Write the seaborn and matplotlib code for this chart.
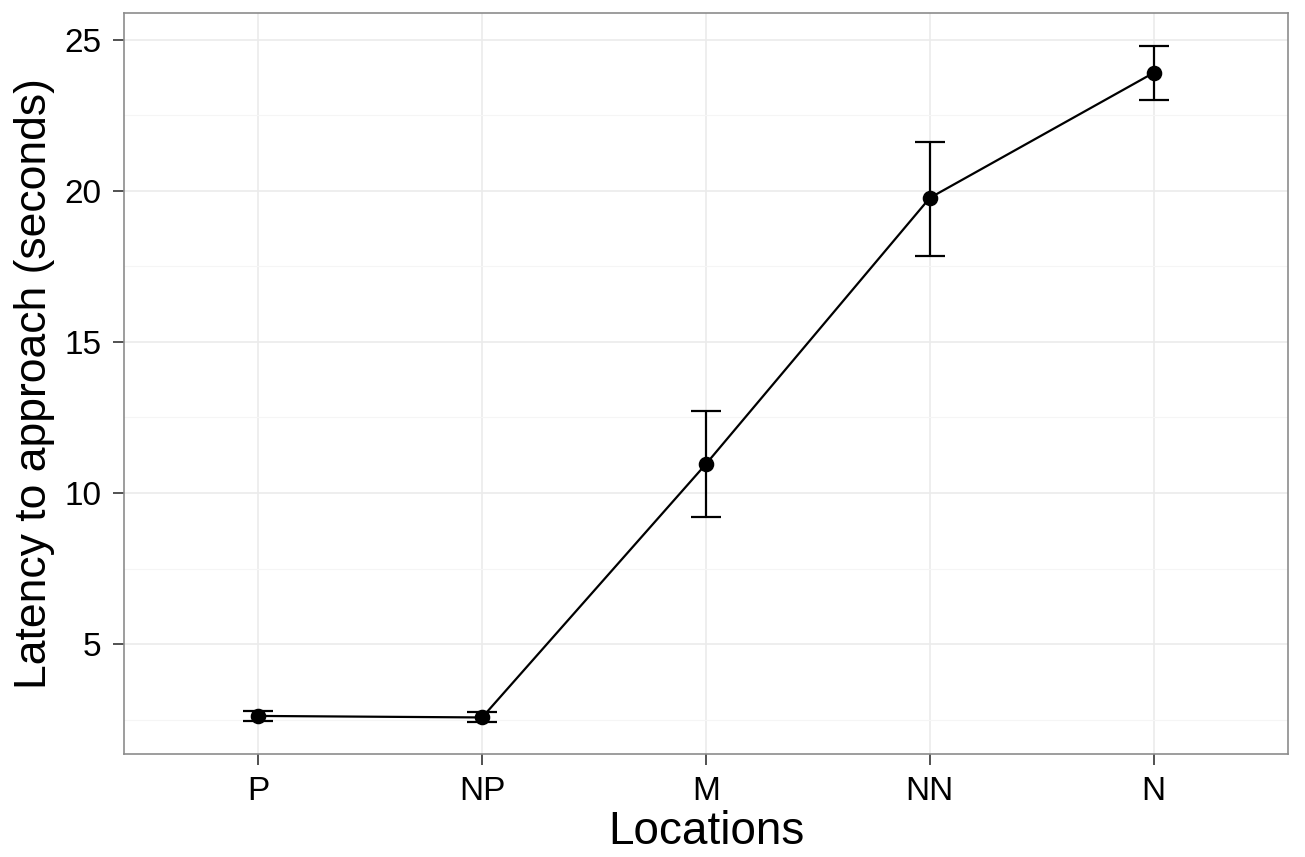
import numpy as np
import pandas as pd
import matplotlib.pyplot as plt
import seaborn as sns
from matplotlib.ticker import MultipleLocator

locations = ['P', 'NP', 'M', 'NN', 'N']
latency = [2.62, 2.57, 10.96, 19.77, 23.91]
err_low = [2.46, 2.42, 9.21, 17.85, 23.01]
err_high = [2.78, 2.74, 12.72, 21.62, 24.80]

df = pd.DataFrame({'Locations': locations, 'latency': latency,
                   'lo': err_low, 'hi': err_high})

sns.set_theme(style='white')
plt.rcParams['font.family'] = ['Liberation Sans', 'DejaVu Sans']

fig = plt.figure(figsize=(13.05, 8.57), dpi=100)
ax = fig.add_axes([124 / 1305, 1 - 754 / 857, (1288 - 124) / 1305, (754 - 13) / 857])

sns.pointplot(data=df, x='Locations', y='latency', order=locations,
              color='black', markers='o', markersize=10, linewidth=1.6,
              errorbar=None, ax=ax, zorder=3)

xpos = np.arange(len(locations))
yerr = [df['latency'] - df['lo'], df['hi'] - df['latency']]
ax.errorbar(xpos, df['latency'], yerr=yerr, fmt='none', ecolor='black',
            elinewidth=1.6, capsize=11, capthick=1.6, zorder=2)

ax.set_xlim(-0.6, 4.6)
ax.set_ylim(1.36, 25.89)
ax.yaxis.set_minor_locator(MultipleLocator(2.5))
ax.set_yticks([5, 10, 15, 20, 25])

ax.grid(True, which='major', color='#EBEBEB', linewidth=1.2, zorder=0)
ax.grid(True, which='minor', axis='y', color='#F5F5F5', linewidth=0.8, zorder=0)
ax.set_axisbelow(True)

for s in ax.spines.values():
    s.set_visible(True)
    s.set_color('#8C8C8C')
    s.set_linewidth(1.2)

ax.tick_params(axis='both', which='major', length=8, width=1.2, color='#333333',
               labelsize=24, labelcolor='black', pad=8, direction='out',
               bottom=True, left=True)
ax.tick_params(axis='y', which='minor', length=0)

ax.set_xlabel('Locations', fontsize=33, labelpad=2, color='black')
ax.set_ylabel('Latency to approach (seconds)', fontsize=32, labelpad=7, color='black')

fig.savefig('out.png', dpi=100)
